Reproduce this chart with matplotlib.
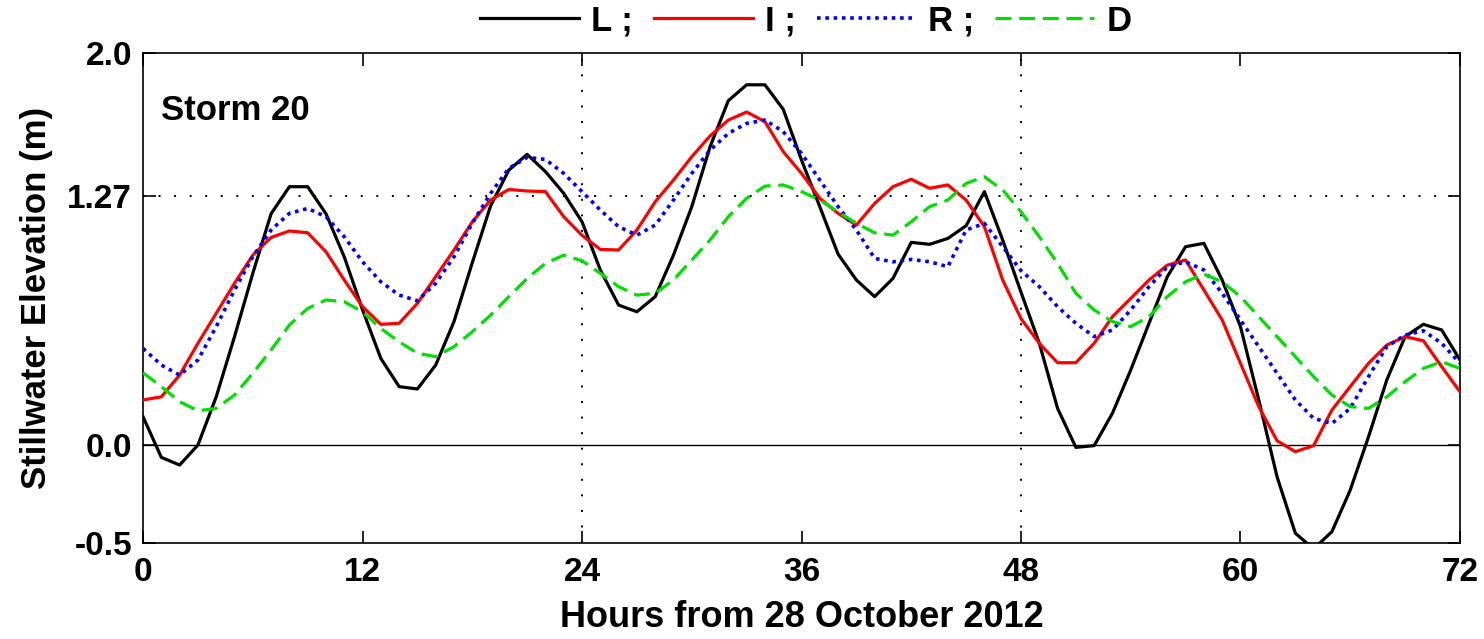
import numpy as np
import matplotlib
matplotlib.use("Agg")
import matplotlib.pyplot as plt

plt.rcParams['font.family'] = ['Liberation Sans', 'DejaVu Sans']
plt.rcParams['font.weight'] = 'bold'

hours = list(range(0, 73))

# Stillwater elevation (m), hourly
series_L = [0.144, -0.063, -0.102, 0.0, 0.246, 0.553, 0.876, 1.18, 1.318, 1.318,
            1.18, 0.96, 0.69, 0.442, 0.298, 0.286, 0.408, 0.63, 0.93, 1.22,
            1.403, 1.483, 1.395, 1.284, 1.139, 0.893, 0.714, 0.68, 0.757, 0.969,
            1.216, 1.522, 1.757, 1.838, 1.838, 1.713, 1.454, 1.216, 0.974, 0.842,
            0.757, 0.85, 1.034, 1.024, 1.054, 1.119, 1.293, 1.046, 0.78, 0.52,
            0.187, -0.012, -0.003, 0.162, 0.383, 0.621, 0.859, 1.012, 1.029, 0.842,
            0.604, 0.23, -0.162, -0.45, -0.53, -0.442, -0.23, 0.042, 0.332, 0.553,
            0.616, 0.587, 0.434]

series_I = [0.23, 0.246, 0.357, 0.519, 0.672, 0.825, 0.969, 1.059, 1.092, 1.083,
            0.986, 0.842, 0.706, 0.616, 0.621, 0.723, 0.859, 0.995, 1.139, 1.25,
            1.304, 1.296, 1.293, 1.165, 1.07, 0.998, 0.995, 1.097, 1.241, 1.352,
            1.471, 1.577, 1.658, 1.699, 1.65, 1.497, 1.386, 1.259, 1.182, 1.122,
            1.233, 1.318, 1.356, 1.31, 1.327, 1.25, 1.114, 0.842, 0.645, 0.519,
            0.42, 0.42, 0.519, 0.655, 0.748, 0.842, 0.918, 0.944, 0.791, 0.638,
            0.417, 0.196, 0.022, -0.034, -0.003, 0.179, 0.298, 0.417, 0.51, 0.553,
            0.532, 0.4, 0.272]

series_R = [0.493, 0.408, 0.357, 0.434, 0.604, 0.791, 0.961, 1.097, 1.182, 1.207,
            1.165, 1.063, 0.935, 0.833, 0.765, 0.736, 0.825, 0.961, 1.131, 1.284,
            1.412, 1.468, 1.457, 1.386, 1.293, 1.199, 1.114, 1.071, 1.122, 1.25,
            1.386, 1.505, 1.59, 1.641, 1.658, 1.599, 1.488, 1.352, 1.216, 1.097,
            0.952, 0.935, 0.947, 0.935, 0.91, 1.097, 1.131, 1.012, 0.89, 0.808,
            0.706, 0.621, 0.553, 0.587, 0.689, 0.808, 0.91, 0.935, 0.893, 0.774,
            0.638, 0.502, 0.366, 0.23, 0.136, 0.11, 0.187, 0.349, 0.502, 0.561,
            0.583, 0.519, 0.417]

series_D = [0.369, 0.298, 0.221, 0.175, 0.187, 0.255, 0.366, 0.485, 0.612, 0.697,
            0.74, 0.731, 0.68, 0.595, 0.527, 0.468, 0.451, 0.502, 0.578, 0.663,
            0.757, 0.85, 0.927, 0.969, 0.94, 0.876, 0.808, 0.765, 0.774, 0.842,
            0.944, 1.046, 1.165, 1.259, 1.321, 1.327, 1.293, 1.25, 1.19, 1.131,
            1.083, 1.071, 1.139, 1.216, 1.25, 1.335, 1.369, 1.301, 1.19, 1.063,
            0.927, 0.774, 0.689, 0.63, 0.604, 0.655, 0.757, 0.833, 0.872, 0.833,
            0.757, 0.655, 0.553, 0.451, 0.349, 0.255, 0.196, 0.187, 0.246, 0.323,
            0.391, 0.425, 0.391]

series_labels = ['L ;', 'I ;', 'R ;', 'D']
x_ticks = [0, 12, 24, 36, 48, 60, 72]
y_ticks = [-0.5, 0.0, 1.27, 2.0]
y_tick_labels = ['-0.5', '0.0', '1.27', '2.0']

fig = plt.figure(figsize=(14.84, 6.39), dpi=100)
ax = fig.add_axes([0.0964, 0.1502, 0.8874, 0.7668])

# reference lines
ax.axhline(0.0, color='black', lw=1.0, zorder=1)
grid_style = dict(color='black', lw=1.4, linestyle=(0, (1, 7)), zorder=1)
ax.axhline(1.27, **grid_style)
ax.axvline(24, **grid_style)
ax.axvline(48, **grid_style)

ax.plot(hours, series_L, color='black', lw=2.3, label=series_labels[0], zorder=3)
ax.plot(hours, series_I, color='#ff0000', lw=2.3, label=series_labels[1], zorder=3)
ax.plot(hours, series_R, color='#0000ff', lw=2.6, linestyle=(0, (1, 1.3)),
        label=series_labels[2], zorder=3)
ax.plot(hours, series_D, color='#00e000', lw=2.3, linestyle=(0, (5, 2.4)),
        label=series_labels[3], zorder=3)

ax.set_xlim(0, 72)
ax.set_ylim(-0.5, 2.0)
ax.set_xticks(x_ticks)
ax.set_yticks(y_ticks)
ax.set_yticklabels(y_tick_labels)
ax.tick_params(direction='in', length=9, width=1.2, top=True, right=True,
               labelsize=24)
ax.tick_params(axis='x', pad=10)
ax.tick_params(axis='y', pad=8)
for lab in ax.get_xticklabels() + ax.get_yticklabels():
    lab.set_fontweight('bold')
for sp in ax.spines.values():
    sp.set_linewidth(1.2)

ax.set_xlabel('Hours from 28 October 2012', fontsize=26, fontweight='bold', labelpad=9)
ax.set_ylabel('Stillwater Elevation (m)', fontsize=25, fontweight='bold', labelpad=10)

ax.text(0.014, 0.882, 'Storm 20', transform=ax.transAxes, fontsize=25,
        fontweight='bold', va='center', ha='left')

fig.legend(loc='center', bbox_to_anchor=(0.543, 0.967), ncol=4, frameon=False,
           handlelength=2.85, handletextpad=0.35, columnspacing=0.6,
           prop={'weight': 'bold', 'size': 25})

fig.savefig('out.png', dpi=100)
